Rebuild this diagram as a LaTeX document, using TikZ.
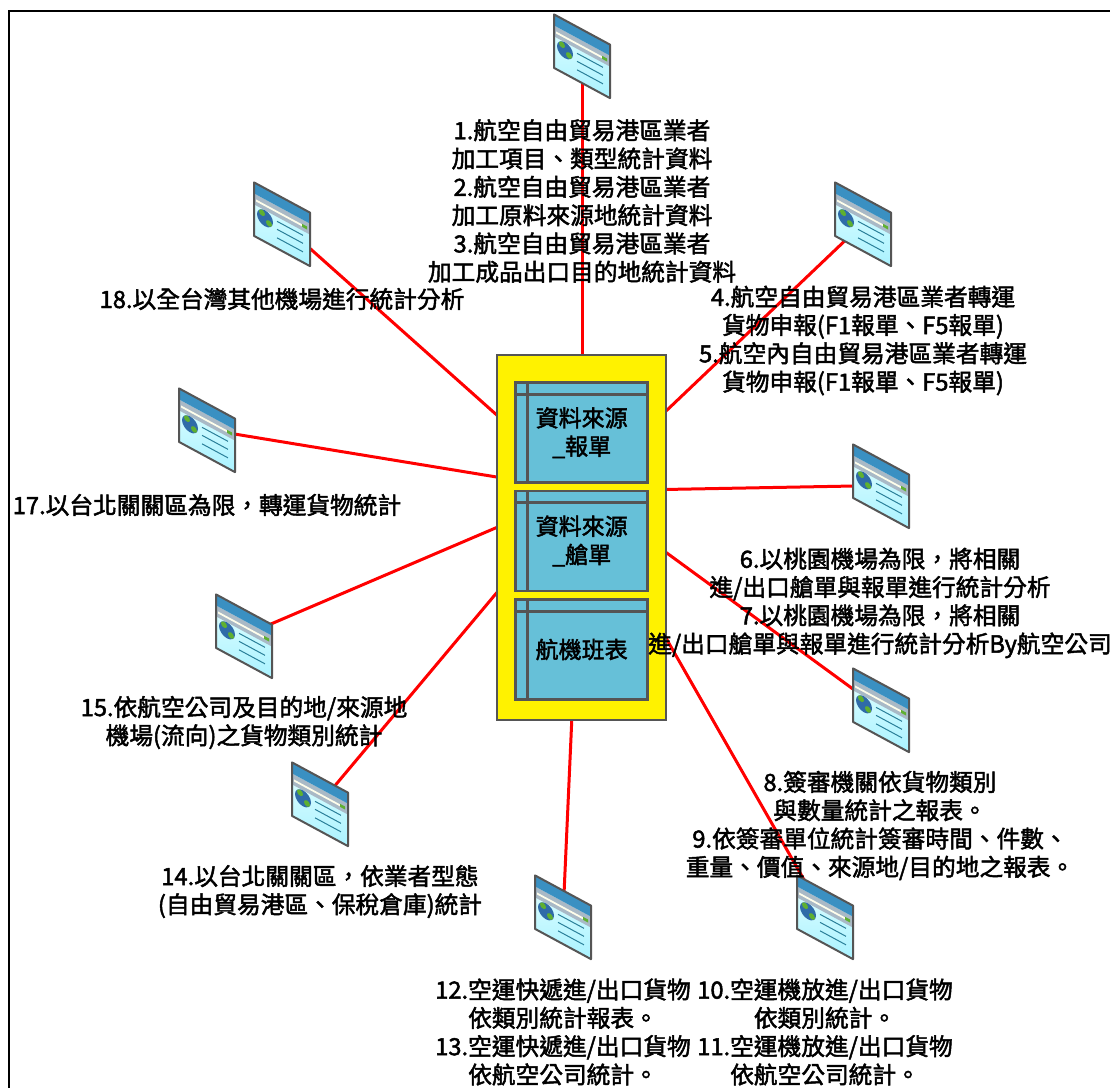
\documentclass[tikz,border=0pt]{standalone}
\usepackage{fontspec}
\newfontfamily\labelfont{Noto Sans CJK TC}[FakeBold=2]
\usetikzlibrary{calc}

\definecolor{iconedge}{HTML}{555555}
\definecolor{tablefill}{HTML}{66C0D8}
\definecolor{iconblue}{HTML}{3A90C2}
\definecolor{icongray}{HTML}{A9B9C6}
\definecolor{iconglobe}{HTML}{2F6BA8}
\definecolor{iconland}{HTML}{5FB030}
\definecolor{iconline}{HTML}{2A7F99}

\tikzset{
  redlink/.style={draw=red,line width=3pt},
  panelbox/.style={draw=iconedge,fill=yellow,line width=2.6pt,minimum width=169pt,minimum height=365pt,inner sep=0pt,outer sep=0pt},
  tablebox/.style={draw=iconedge,fill=tablefill,line width=2.6pt,minimum width=132pt,minimum height=100pt,inner sep=0pt,outer sep=0pt,align=center,font=\labelfont\fontsize{23}{28.3}\selectfont},
  tableline/.style={draw=iconedge,line width=2.6pt},
  maplabel/.style={align=center,inner sep=0pt,font=\labelfont\fontsize{23.7}{28.3}\selectfont},
  webicon/.pic={
    \begin{scope}[yslant=-0.54]
      \shade[top color=white!90!cyan,bottom color=cyan!30!white!95!blue] (-28,-26) rectangle (28,27.5);
      \fill[icongray] (-28,-15) rectangle (28,-4);
      \fill[white!92!yellow] (-26,-10) rectangle (20,-8);
      \fill[iconland] (20,-10.5) rectangle (25,-7.5);
      \fill[iconblue] (-28,-26) rectangle (28,-15);
      \fill[iconglobe] (-17,4) circle (8);
      \fill[iconland] (-20,0) circle (3);
      \fill[iconland] (-13,7) circle (3);
      \draw[iconline,line width=1pt] (-5,0.5) -- (21,0.5);
      \draw[iconline,line width=1pt] (-5,8.5) -- (21,8.5);
      \draw[iconline,line width=1pt] (-5,17) -- (21,17);
      \draw[iconedge,line width=2pt,line join=round] (-28,-26) rectangle (28,27.5);
    \end{scope}
  }
}

\begin{document}
\begin{tikzpicture}[x=1pt,y=-1pt]
  \useasboundingbox (0,0) rectangle (1110,1088);
  \fill[white] (0,0) rectangle (1110,1088);
  \draw[line width=2.2pt] (1110,11) -| (9,1088);

  \coordinate (hub) at (582,491);
  \coordinate (iconA) at (582,55.5);
  \coordinate (iconB) at (863,223.5);
  \coordinate (iconC) at (881,485.5);
  \coordinate (iconD) at (881,709.5);
  \coordinate (iconE) at (825,916.5);
  \coordinate (iconF) at (563,916.5);
  \coordinate (iconG) at (320,803.5);
  \coordinate (iconH) at (244,635.5);
  \coordinate (iconI) at (207,429.5);
  \coordinate (iconJ) at (282,223.5);

  \foreach \icon in {iconA,iconB,iconC,iconD,iconE,iconF,iconG,iconH,iconI,iconJ}
    \draw[redlink] (hub) -- (\icon);

  \node[panelbox] (panel) at (581.5,537.5) {};
  \node[tablebox] (tableA) at (581.7,432.7) {資料來源\\\_報單};
  \node[tablebox] (tableB) at (581.7,541) {資料來源\\\_艙單};
  \node[tablebox] (tableC) at (581.7,649.5) {航機班表};
  \foreach \tbl in {tableA,tableB,tableC} {
    \draw[tableline] ([xshift=12pt]\tbl.north west) -- ([xshift=12pt]\tbl.south west);
    \draw[tableline] ([yshift=-11.7pt]\tbl.north west) -- ([yshift=-11.7pt]\tbl.north east);
  }

  \foreach \icon in {iconA,iconB,iconC,iconD,iconE,iconF,iconG,iconH,iconI,iconJ}
    \pic at (\icon) {webicon};

  \node[maplabel] (labelA) at (582,201) {1.航空自由貿易港區業者\\加工項目、類型統計資料\\2.航空自由貿易港區業者\\加工原料來源地統計資料\\3.航空自由貿易港區業者\\加工成品出口目的地統計資料};
  \node[maplabel] (labelB) at (863,340.5) {4.航空自由貿易港區業者轉運\\貨物申報(F1報單、F5報單)\\5.航空內自由貿易港區業者轉運\\貨物申報(F1報單、F5報單)};
  \node[maplabel] (labelC) at (880,603) {6.以桃園機場為限，將相關\\進/出口艙單與報單進行統計分析\\7.以桃園機場為限，將相關\\進/出口艙單與報單進行統計分析By航空公司};
  \node[maplabel] (labelD) at (880,825.5) {8.簽審機關依貨物類別\\與數量統計之報表。\\9.依簽審單位統計簽審時間、件數、\\重量、價值、來源地/目的地之報表。};
  \node[maplabel] (labelE) at (825,1032) {10.空運機放進/出口貨物\\依類別統計。\\11.空運機放進/出口貨物\\依航空公司統計。};
  \node[maplabel] (labelF) at (563,1032) {12.空運快遞進/出口貨物\\依類別統計報表。\\13.空運快遞進/出口貨物\\依航空公司統計。};
  \node[maplabel] (labelG) at (320,891.5) {14.以台北關關區，依業者型態\\(自由貿易港區、保稅倉庫)統計};
  \node[maplabel] (labelH) at (244,722.5) {15.依航空公司及目的地/來源地\\機場(流向)之貨物類別統計};
  \node[maplabel] (labelI) at (207,505) {17.以台北關關區為限，轉運貨物統計};
  \node[maplabel] (labelJ) at (282,299) {18.以全台灣其他機場進行統計分析};
\end{tikzpicture}
\end{document}
